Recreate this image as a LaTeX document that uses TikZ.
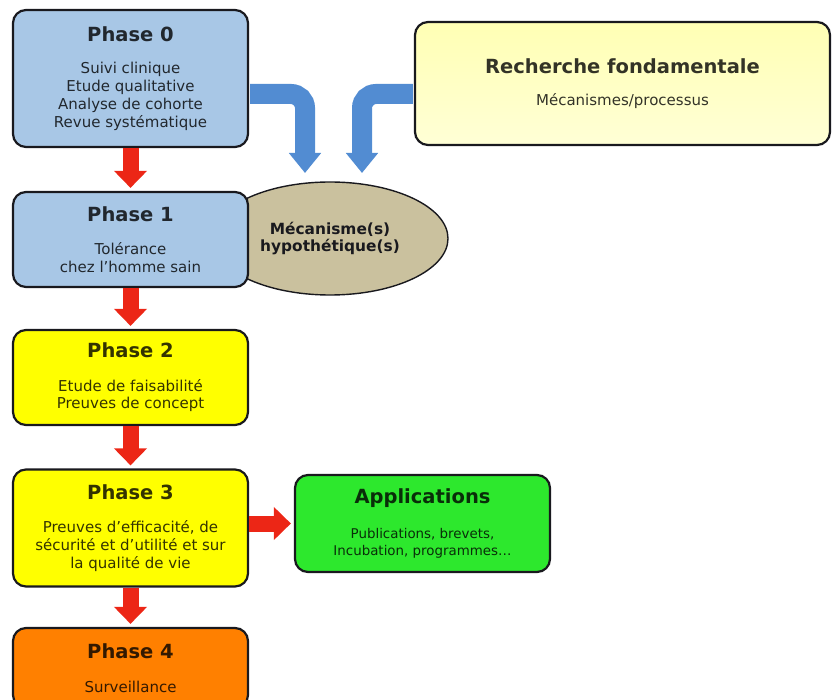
\documentclass[tikz,border=0pt]{standalone}
\usepackage{fontspec}
\setmainfont{DejaVu Sans}
\usepackage{tikz}
\usetikzlibrary{arrows.meta,shapes.geometric}
\definecolor{bord}{RGB}{25,25,30}
\definecolor{bleuphase}{RGB}{168,199,230}
\definecolor{jaunepale}{RGB}{255,255,180}
\definecolor{jaunephase}{RGB}{255,255,0}
\definecolor{vertapp}{RGB}{45,232,45}
\definecolor{orangephase}{RGB}{255,128,0}
\definecolor{beige}{RGB}{202,193,158}
\definecolor{rougefl}{RGB}{236,38,22}
\definecolor{bleufl}{RGB}{82,140,210}
\newcommand{\titre}[1]{{\fontsize{19.5}{18}\selectfont\bfseries#1}}

\begin{document}
\begin{tikzpicture}[x=1pt, y=-1pt,
  boite/.style={draw=bord, line width=2.2pt, rounded corners=13pt, align=center,
    minimum width=235pt, text=black, text opacity=0.8, font=\fontsize{15}{18}\selectfont},
  rouge/.style={draw=rougefl, line width=16pt, -{Triangle[width=32pt,length=17pt]}},
  bleu/.style={draw=bleufl, line width=20pt, rounded corners=14pt,
    -{Triangle[width=31pt,length=20pt]}}]
  \useasboundingbox (0,0) rectangle (832,700);
  % hypothesis
  \node[ellipse, draw=bord, line width=1.4pt, fill=beige, minimum width=236pt,
    minimum height=113pt, align=center, text=bord,
    font=\fontsize{15.4}{17}\selectfont\bfseries] (meca) at (330,238.5)
    {Mécanisme(s)\\hypothétique(s)};
  % phases
  \node[boite, fill=bleuphase, minimum height=137pt] (p0) at (130.5,78.5)
    {\titre{Phase 0}\\[14pt] Suivi clinique\\ Etude qualitative\\ Analyse de cohorte\\ Revue systématique};
  \node[boite, fill=bleuphase, minimum height=95pt] (p1) at (130.5,239.5)
    {\titre{Phase 1}\\[15pt] Tolérance\\ chez l’homme sain};
  \node[boite, fill=jaunephase, minimum height=95pt] (p2) at (130.5,377.5)
    {\titre{Phase 2}\\[16pt] Etude de faisabilité\\[-1pt] Preuves de concept};
  \node[boite, fill=jaunephase, minimum height=117pt] (p3) at (130.5,528)
    {\titre{Phase 3}\\[15pt] Preuves d’efficacité, de\\ sécurité et d’utilité et sur\\ la qualité de vie};
  \node[boite, fill=orangephase, minimum height=80pt] (p4) at (130.5,668)
    {\titre{Phase 4}\\[16pt] Surveillance};
  % side boxes
  \node[boite, top color=jaunepale, bottom color=jaunepale!55, minimum width=415pt,
    minimum height=123pt] (rf) at (622.5,83.5)
    {\titre{Recherche fondamentale}\\[14pt] Mécanismes/processus};
  \node[boite, fill=vertapp, minimum width=255pt, minimum height=97pt,
    font=\fontsize{13.4}{17}\selectfont] (app) at (422.5,523.5)
    {\titre{Applications}\\[18pt] Publications, brevets,\\ Incubation, programmes…};
  % arrows
  \draw[rouge, shorten >=3pt] (p0) -- (p1);
  \draw[rouge, shorten >=3pt] (p1) -- (p2);
  \draw[rouge, shorten >=3pt] (p2) -- (p3);
  \draw[rouge, shorten >=3pt] (p3) -- (p4);
  \draw[rouge, shorten >=3pt] (p3.east |- app.west) -- (app.west);
  \coordinate (b1) at (305,173);
  \coordinate (b2) at (362,173);
  \draw[bleu, shorten <=1.1pt] (p0.east |- 0,94) -| (b1);
  \draw[bleu, shorten <=1.1pt] (rf.west |- 0,94) -| (b2);
\end{tikzpicture}
\end{document}
